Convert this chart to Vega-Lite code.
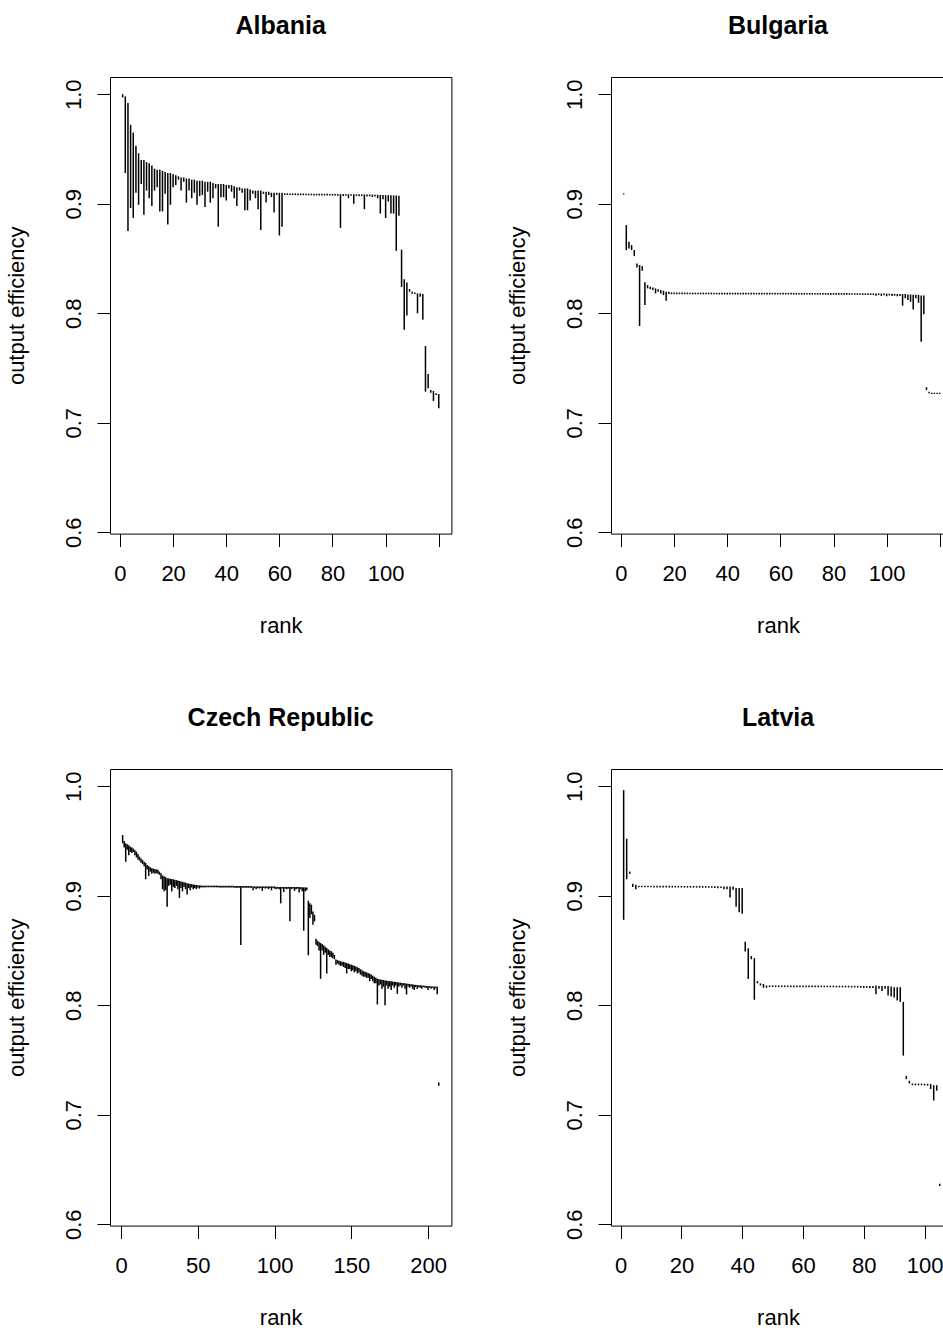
{
"$schema": "https://vega.github.io/schema/vega-lite/v6.json",
"background": "white",
"padding": {"left": 4, "top": 13, "right": 0, "bottom": 0},
"config": {
  "view": {"stroke": "black", "strokeWidth": 1},
  "font": "Liberation Sans",
  "title": {"font": "Liberation Sans", "fontSize": 25, "fontWeight": "bold", "color": "black", "anchor": "middle", "frame": "group", "baseline": "alphabetic", "offset": 38.1},
  "axis": {"domain": false, "grid": false, "ticks": true, "tickColor": "black", "tickSize": 13, "tickWidth": 1, "labelFont": "Liberation Sans", "labelFontSize": 22, "labelColor": "black", "labelFlush": false, "labelOverlap": false, "titleFont": "Liberation Sans", "titleFontSize": 22, "titleFontWeight": "normal", "titleColor": "black"},
  "axisX": {"labelAngle": 0, "labelAlign": "center", "labelBaseline": "alphabetic", "labelPadding": 33.5, "titleBaseline": "alphabetic", "titleAlign": "center", "titleY": 98.7},
  "axisY": {"labelAngle": 270, "labelAlign": "center", "labelBaseline": "alphabetic", "labelPadding": 17, "titleAngle": 270, "titleAlign": "center", "titleBaseline": "alphabetic", "titleX": -87, "titleY": 228.3}
},
"datasets": {
"alb": [
{"r":1,"l":0.997,"h":1.0},{"r":2,"l":0.928,"h":0.998},{"r":3,"l":0.875,"h":0.992},{"r":4,"l":0.896,"h":0.972},{"r":5,"l":0.887,"h":0.965},
{"r":6,"l":0.910,"h":0.953},{"r":7,"l":0.899,"h":0.946},{"r":8,"l":0.918,"h":0.940},{"r":9,"l":0.890,"h":0.940},{"r":10,"l":0.912,"h":0.938},
{"r":11,"l":0.905,"h":0.937},{"r":12,"l":0.898,"h":0.935},{"r":13,"l":0.912,"h":0.932},{"r":14,"l":0.915,"h":0.931},{"r":15,"l":0.893,"h":0.931},
{"r":16,"l":0.893,"h":0.930},{"r":17,"l":0.909,"h":0.929},{"r":18,"l":0.881,"h":0.928},{"r":19,"l":0.899,"h":0.928},{"r":20,"l":0.915,"h":0.927},
{"r":21,"l":0.917,"h":0.926},{"r":22,"l":0.922,"h":0.925},{"r":23,"l":0.912,"h":0.924},{"r":24,"l":0.920,"h":0.924},{"r":25,"l":0.901,"h":0.923},
{"r":26,"l":0.912,"h":0.923},{"r":27,"l":0.905,"h":0.922},{"r":28,"l":0.910,"h":0.922},{"r":29,"l":0.899,"h":0.921},{"r":30,"l":0.907,"h":0.921},
{"r":31,"l":0.908,"h":0.921},{"r":32,"l":0.897,"h":0.920},{"r":33,"l":0.911,"h":0.920},{"r":34,"l":0.901,"h":0.920},{"r":35,"l":0.905,"h":0.919},
{"r":36,"l":0.914,"h":0.918},{"r":37,"l":0.879,"h":0.918},{"r":38,"l":0.906,"h":0.918},{"r":39,"l":0.906,"h":0.918},{"r":40,"l":0.903,"h":0.917},
{"r":41,"l":0.914,"h":0.917},{"r":42,"l":0.911,"h":0.917},{"r":43,"l":0.905,"h":0.916},{"r":44,"l":0.898,"h":0.915},{"r":45,"l":0.912,"h":0.915},
{"r":46,"l":0.910,"h":0.914},{"r":47,"l":0.894,"h":0.914},{"r":48,"l":0.894,"h":0.914},{"r":49,"l":0.903,"h":0.913},{"r":50,"l":0.909,"h":0.912},
{"r":51,"l":0.905,"h":0.912},{"r":52,"l":0.895,"h":0.912},{"r":53,"l":0.876,"h":0.912},{"r":54,"l":0.909,"h":0.911},{"r":55,"l":0.901,"h":0.911},
{"r":56,"l":0.908,"h":0.911},{"r":57,"l":0.906,"h":0.910},{"r":58,"l":0.892,"h":0.910},{"r":59,"l":0.908,"h":0.910},{"r":60,"l":0.871,"h":0.910},
{"r":61,"l":0.879,"h":0.910},{"r":62,"l":0.9080,"h":0.9095},{"r":63,"l":0.9080,"h":0.9095},{"r":64,"l":0.9079,"h":0.9094},{"r":65,"l":0.9079,"h":0.9094},
{"r":66,"l":0.9079,"h":0.9094},{"r":67,"l":0.9078,"h":0.9093},{"r":68,"l":0.9078,"h":0.9093},{"r":69,"l":0.9078,"h":0.9093},{"r":70,"l":0.9077,"h":0.9092},
{"r":71,"l":0.9077,"h":0.9092},{"r":72,"l":0.9077,"h":0.9092},{"r":73,"l":0.9076,"h":0.9091},{"r":74,"l":0.9076,"h":0.9091},{"r":75,"l":0.9076,"h":0.9091},
{"r":76,"l":0.9075,"h":0.9090},{"r":77,"l":0.9075,"h":0.9090},{"r":78,"l":0.9075,"h":0.9090},{"r":79,"l":0.9074,"h":0.9089},{"r":80,"l":0.9074,"h":0.9089},
{"r":81,"l":0.9074,"h":0.9089},{"r":82,"l":0.9073,"h":0.9088},{"r":83,"l":0.878,"h":0.9088},{"r":84,"l":0.9070,"h":0.9088},{"r":85,"l":0.9072,"h":0.9087},
{"r":86,"l":0.905,"h":0.9087},{"r":87,"l":0.9072,"h":0.9087},{"r":88,"l":0.900,"h":0.9086},{"r":89,"l":0.9071,"h":0.9086},{"r":90,"l":0.9068,"h":0.9086},
{"r":91,"l":0.9070,"h":0.9085},{"r":92,"l":0.895,"h":0.9085},{"r":93,"l":0.9065,"h":0.9085},{"r":94,"l":0.9069,"h":0.9084},{"r":95,"l":0.9062,"h":0.9084},
{"r":96,"l":0.9066,"h":0.9083},{"r":97,"l":0.905,"h":0.9082},{"r":98,"l":0.891,"h":0.9080},{"r":99,"l":0.904,"h":0.9079},{"r":100,"l":0.887,"h":0.9078},
{"r":101,"l":0.902,"h":0.9078},{"r":102,"l":0.891,"h":0.9077},{"r":103,"l":0.891,"h":0.9076},{"r":104,"l":0.857,"h":0.9075},{"r":105,"l":0.889,"h":0.9073},
{"r":106,"l":0.824,"h":0.858},{"r":107,"l":0.785,"h":0.831},{"r":108,"l":0.798,"h":0.828},{"r":109,"l":0.8197,"h":0.8221},{"r":110,"l":0.8179,"h":0.8197},
{"r":111,"l":0.8175,"h":0.8190},{"r":112,"l":0.800,"h":0.8181},{"r":113,"l":0.815,"h":0.8181},{"r":114,"l":0.794,"h":0.8175},{"r":115,"l":0.7284,"h":0.7701},
{"r":116,"l":0.7314,"h":0.7445},{"r":117,"l":0.7275,"h":0.7299},{"r":118,"l":0.7199,"h":0.7290},{"r":119,"l":0.7254,"h":0.7269},{"r":120,"l":0.7132,"h":0.7263}
],
"bul": [
{"r":1,"l":0.9085,"h":0.9095},{"r":2,"l":0.8577,"h":0.8805},{"r":3,"l":0.8592,"h":0.8653},{"r":4,"l":0.8577,"h":0.8622},{"r":5,"l":0.8522,"h":0.8577},
{"r":6,"l":0.8418,"h":0.8455},{"r":7,"l":0.7883,"h":0.8440},{"r":8,"l":0.8388,"h":0.8431},{"r":9,"l":0.8075,"h":0.8282},{"r":10,"l":0.8227,"h":0.8257},
{"r":11,"l":0.8218,"h":0.8242},{"r":12,"l":0.8212,"h":0.8236},{"r":13,"l":0.8181,"h":0.8227},{"r":14,"l":0.8197,"h":0.8218},{"r":15,"l":0.8181,"h":0.8212},
{"r":16,"l":0.8166,"h":0.8206},{"r":17,"l":0.8114,"h":0.8197},{"r":18,"l":0.8175,"h":0.8197},{"r":19,"l":0.8174,"h":0.8190},{"r":20,"l":0.8174,"h":0.8189},
{"r":21,"l":0.8174,"h":0.8189},{"r":22,"l":0.8174,"h":0.8189},{"r":23,"l":0.8174,"h":0.8189},{"r":24,"l":0.8174,"h":0.8189},{"r":25,"l":0.8173,"h":0.8188},
{"r":26,"l":0.8173,"h":0.8188},{"r":27,"l":0.8173,"h":0.8188},{"r":28,"l":0.8173,"h":0.8188},{"r":29,"l":0.8173,"h":0.8188},{"r":30,"l":0.8173,"h":0.8188},
{"r":31,"l":0.8173,"h":0.8188},{"r":32,"l":0.8173,"h":0.8188},{"r":33,"l":0.8173,"h":0.8188},{"r":34,"l":0.8173,"h":0.8188},{"r":35,"l":0.8173,"h":0.8188},
{"r":36,"l":0.8172,"h":0.8187},{"r":37,"l":0.8172,"h":0.8187},{"r":38,"l":0.8172,"h":0.8187},{"r":39,"l":0.8172,"h":0.8187},{"r":40,"l":0.8172,"h":0.8187},
{"r":41,"l":0.8172,"h":0.8187},{"r":42,"l":0.8172,"h":0.8187},{"r":43,"l":0.8172,"h":0.8187},{"r":44,"l":0.8172,"h":0.8187},{"r":45,"l":0.8172,"h":0.8187},
{"r":46,"l":0.8172,"h":0.8187},{"r":47,"l":0.8172,"h":0.8187},{"r":48,"l":0.8172,"h":0.8187},{"r":49,"l":0.8172,"h":0.8187},{"r":50,"l":0.8172,"h":0.8187},
{"r":51,"l":0.8171,"h":0.8186},{"r":52,"l":0.8171,"h":0.8186},{"r":53,"l":0.8171,"h":0.8186},{"r":54,"l":0.8171,"h":0.8186},{"r":55,"l":0.8171,"h":0.8186},
{"r":56,"l":0.8171,"h":0.8186},{"r":57,"l":0.8171,"h":0.8186},{"r":58,"l":0.8171,"h":0.8186},{"r":59,"l":0.8171,"h":0.8186},{"r":60,"l":0.8171,"h":0.8186},
{"r":61,"l":0.8171,"h":0.8186},{"r":62,"l":0.8171,"h":0.8186},{"r":63,"l":0.8171,"h":0.8186},{"r":64,"l":0.8171,"h":0.8186},{"r":65,"l":0.8171,"h":0.8186},
{"r":66,"l":0.8170,"h":0.8185},{"r":67,"l":0.8170,"h":0.8185},{"r":68,"l":0.8170,"h":0.8185},{"r":69,"l":0.8170,"h":0.8185},{"r":70,"l":0.8170,"h":0.8185},
{"r":71,"l":0.8170,"h":0.8185},{"r":72,"l":0.8170,"h":0.8185},{"r":73,"l":0.8170,"h":0.8185},{"r":74,"l":0.8170,"h":0.8185},{"r":75,"l":0.8170,"h":0.8185},
{"r":76,"l":0.8169,"h":0.8184},{"r":77,"l":0.8169,"h":0.8184},{"r":78,"l":0.8169,"h":0.8184},{"r":79,"l":0.8169,"h":0.8184},{"r":80,"l":0.8169,"h":0.8184},
{"r":81,"l":0.8169,"h":0.8184},{"r":82,"l":0.8169,"h":0.8184},{"r":83,"l":0.8169,"h":0.8184},{"r":84,"l":0.8169,"h":0.8184},{"r":85,"l":0.8169,"h":0.8184},
{"r":86,"l":0.8168,"h":0.8183},{"r":87,"l":0.8168,"h":0.8183},{"r":88,"l":0.8168,"h":0.8183},{"r":89,"l":0.8168,"h":0.8183},{"r":90,"l":0.8168,"h":0.8183},
{"r":91,"l":0.8167,"h":0.8182},{"r":92,"l":0.8167,"h":0.8182},{"r":93,"l":0.8167,"h":0.8182},{"r":94,"l":0.8167,"h":0.8182},{"r":95,"l":0.8166,"h":0.8181},
{"r":96,"l":0.8160,"h":0.8181},{"r":97,"l":0.8166,"h":0.8181},{"r":98,"l":0.8158,"h":0.8180},{"r":99,"l":0.8165,"h":0.8180},{"r":100,"l":0.8155,"h":0.8179},
{"r":101,"l":0.8163,"h":0.8178},{"r":102,"l":0.8158,"h":0.8178},{"r":103,"l":0.8160,"h":0.8177},{"r":104,"l":0.8155,"h":0.8176},{"r":105,"l":0.8158,"h":0.8176},
{"r":106,"l":0.8069,"h":0.8175},{"r":107,"l":0.8136,"h":0.8175},{"r":108,"l":0.8120,"h":0.8172},{"r":109,"l":0.8105,"h":0.8172},{"r":110,"l":0.8035,"h":0.8169},
{"r":111,"l":0.8136,"h":0.8169},{"r":112,"l":0.8096,"h":0.8169},{"r":113,"l":0.7740,"h":0.8163},{"r":114,"l":0.7990,"h":0.8163},{"r":115,"l":0.7299,"h":0.7324},
{"r":116,"l":0.7269,"h":0.7284},{"r":117,"l":0.7263,"h":0.7275},{"r":118,"l":0.7263,"h":0.7275},{"r":119,"l":0.7263,"h":0.7275},{"r":120,"l":0.7263,"h":0.7275}
],
"cze": [
{"r":1,"l":0.9480,"h":0.9554},{"r":2,"l":0.9440,"h":0.9500},{"r":3,"l":0.9310,"h":0.9478},{"r":4,"l":0.9420,"h":0.9470},{"r":5,"l":0.9370,"h":0.9460},
{"r":6,"l":0.9400,"h":0.9448},{"r":7,"l":0.9390,"h":0.9440},{"r":8,"l":0.9400,"h":0.9430},{"r":9,"l":0.9370,"h":0.9415},{"r":10,"l":0.9350,"h":0.9402},
{"r":11,"l":0.9330,"h":0.9380},{"r":12,"l":0.9320,"h":0.9357},{"r":13,"l":0.9300,"h":0.9340},{"r":14,"l":0.9290,"h":0.9325},{"r":15,"l":0.9270,"h":0.9311},
{"r":16,"l":0.9150,"h":0.9300},{"r":17,"l":0.9240,"h":0.9281},{"r":18,"l":0.9180,"h":0.9270},{"r":19,"l":0.9220,"h":0.9260},{"r":20,"l":0.9200,"h":0.9251},
{"r":21,"l":0.9210,"h":0.9248},{"r":22,"l":0.9200,"h":0.9245},{"r":23,"l":0.9205,"h":0.9240},{"r":24,"l":0.9200,"h":0.9236},{"r":25,"l":0.9190,"h":0.9220},
{"r":26,"l":0.9150,"h":0.9205},{"r":27,"l":0.9060,"h":0.9184},{"r":28,"l":0.9040,"h":0.9178},{"r":29,"l":0.9050,"h":0.9170},{"r":30,"l":0.8900,"h":0.9160},
{"r":31,"l":0.9090,"h":0.9158},{"r":32,"l":0.9100,"h":0.9155},{"r":33,"l":0.9040,"h":0.9152},{"r":34,"l":0.9080,"h":0.9150},{"r":35,"l":0.9070,"h":0.9145},
{"r":36,"l":0.9090,"h":0.9142},{"r":37,"l":0.9060,"h":0.9138},{"r":38,"l":0.8980,"h":0.9134},{"r":39,"l":0.9070,"h":0.9130},{"r":40,"l":0.9040,"h":0.9127},
{"r":41,"l":0.9080,"h":0.9124},{"r":42,"l":0.9060,"h":0.9120},{"r":43,"l":0.9010,"h":0.9114},{"r":44,"l":0.9070,"h":0.9111},{"r":45,"l":0.9050,"h":0.9108},
{"r":46,"l":0.9075,"h":0.9105},{"r":47,"l":0.9060,"h":0.9102},{"r":48,"l":0.9070,"h":0.9099},{"r":49,"l":0.9060,"h":0.9098},{"r":50,"l":0.9075,"h":0.9096},
{"r":51,"l":0.9065,"h":0.9094},{"r":52,"l":0.9075,"h":0.9093},{"r":53,"l":0.9077,"h":0.9092},{"r":54,"l":0.9075,"h":0.9092},{"r":55,"l":0.9077,"h":0.9092},
{"r":56,"l":0.9077,"h":0.9092},{"r":57,"l":0.9077,"h":0.9092},{"r":58,"l":0.9077,"h":0.9092},{"r":59,"l":0.9077,"h":0.9092},{"r":60,"l":0.9077,"h":0.9092},
{"r":61,"l":0.9077,"h":0.9092},{"r":62,"l":0.9077,"h":0.9092},{"r":63,"l":0.9077,"h":0.9092},{"r":64,"l":0.9075,"h":0.9090},{"r":65,"l":0.9075,"h":0.9090},
{"r":66,"l":0.9075,"h":0.9090},{"r":67,"l":0.9075,"h":0.9090},{"r":68,"l":0.9075,"h":0.9090},{"r":69,"l":0.9075,"h":0.9090},{"r":70,"l":0.9075,"h":0.9090},
{"r":71,"l":0.9075,"h":0.9090},{"r":72,"l":0.9075,"h":0.9090},{"r":73,"l":0.9075,"h":0.9090},{"r":74,"l":0.9073,"h":0.9088},{"r":75,"l":0.9073,"h":0.9088},
{"r":76,"l":0.9073,"h":0.9088},{"r":77,"l":0.9073,"h":0.9088},{"r":78,"l":0.8550,"h":0.9088},{"r":79,"l":0.9073,"h":0.9088},{"r":80,"l":0.9073,"h":0.9088},
{"r":81,"l":0.9073,"h":0.9088},{"r":82,"l":0.9073,"h":0.9088},{"r":83,"l":0.9073,"h":0.9088},{"r":84,"l":0.9073,"h":0.9088},{"r":85,"l":0.9073,"h":0.9088},
{"r":86,"l":0.9050,"h":0.9085},{"r":87,"l":0.9070,"h":0.9085},{"r":88,"l":0.9060,"h":0.9085},{"r":89,"l":0.9070,"h":0.9085},{"r":90,"l":0.9065,"h":0.9085},
{"r":91,"l":0.9070,"h":0.9085},{"r":92,"l":0.9045,"h":0.9085},{"r":93,"l":0.9070,"h":0.9085},{"r":94,"l":0.9065,"h":0.9085},{"r":95,"l":0.9070,"h":0.9085},
{"r":96,"l":0.9060,"h":0.9085},{"r":97,"l":0.9070,"h":0.9085},{"r":98,"l":0.9050,"h":0.9085},{"r":99,"l":0.9070,"h":0.9085},{"r":100,"l":0.9065,"h":0.9085},
{"r":101,"l":0.9060,"h":0.9080},{"r":102,"l":0.9065,"h":0.9080},{"r":103,"l":0.9060,"h":0.9080},{"r":104,"l":0.8930,"h":0.9080},{"r":105,"l":0.9065,"h":0.9080},
{"r":106,"l":0.9035,"h":0.9080},{"r":107,"l":0.9065,"h":0.9080},{"r":108,"l":0.9060,"h":0.9080},{"r":109,"l":0.9065,"h":0.9080},{"r":110,"l":0.8766,"h":0.9080},
{"r":111,"l":0.9060,"h":0.9080},{"r":112,"l":0.9065,"h":0.9080},{"r":113,"l":0.9045,"h":0.9080},{"r":114,"l":0.9060,"h":0.9080},{"r":115,"l":0.9065,"h":0.9080},
{"r":116,"l":0.9030,"h":0.9080},{"r":117,"l":0.9060,"h":0.9078},{"r":118,"l":0.9040,"h":0.9077},{"r":119,"l":0.8680,"h":0.9076},{"r":120,"l":0.9040,"h":0.9076},
{"r":121,"l":0.9050,"h":0.9075},{"r":122,"l":0.8456,"h":0.8954},{"r":123,"l":0.8796,"h":0.8932},{"r":124,"l":0.8830,"h":0.8918},{"r":125,"l":0.8735,"h":0.8857},
{"r":126,"l":0.8765,"h":0.8826},{"r":127,"l":0.8553,"h":0.8608},{"r":128,"l":0.8540,"h":0.8590},{"r":129,"l":0.8500,"h":0.8577},{"r":130,"l":0.8241,"h":0.8568},
{"r":131,"l":0.8500,"h":0.8560},{"r":132,"l":0.8460,"h":0.8547},{"r":133,"l":0.8480,"h":0.8535},{"r":134,"l":0.8289,"h":0.8523},{"r":135,"l":0.8460,"h":0.8510},
{"r":136,"l":0.8440,"h":0.8500},{"r":137,"l":0.8440,"h":0.8493},{"r":138,"l":0.8430,"h":0.8480},{"r":139,"l":0.8420,"h":0.8460},{"r":140,"l":0.8370,"h":0.8417},
{"r":141,"l":0.8380,"h":0.8412},{"r":142,"l":0.8370,"h":0.8407},{"r":143,"l":0.8360,"h":0.8402},{"r":144,"l":0.8360,"h":0.8398},{"r":145,"l":0.8350,"h":0.8395},
{"r":146,"l":0.8340,"h":0.8390},{"r":147,"l":0.8290,"h":0.8385},{"r":148,"l":0.8330,"h":0.8380},{"r":149,"l":0.8330,"h":0.8375},{"r":150,"l":0.8310,"h":0.8370},
{"r":151,"l":0.8320,"h":0.8365},{"r":152,"l":0.8300,"h":0.8360},{"r":153,"l":0.8310,"h":0.8353},{"r":154,"l":0.8290,"h":0.8347},{"r":155,"l":0.8300,"h":0.8340},
{"r":156,"l":0.8280,"h":0.8330},{"r":157,"l":0.8270,"h":0.8320},{"r":158,"l":0.8260,"h":0.8311},{"r":159,"l":0.8260,"h":0.8305},{"r":160,"l":0.8250,"h":0.8300},
{"r":161,"l":0.8250,"h":0.8295},{"r":162,"l":0.8220,"h":0.8288},{"r":163,"l":0.8240,"h":0.8280},{"r":164,"l":0.8220,"h":0.8270},{"r":165,"l":0.8200,"h":0.8260},
{"r":166,"l":0.8200,"h":0.8250},{"r":167,"l":0.8007,"h":0.8241},{"r":168,"l":0.8180,"h":0.8238},{"r":169,"l":0.8190,"h":0.8235},{"r":170,"l":0.8150,"h":0.8233},
{"r":171,"l":0.8170,"h":0.8230},{"r":172,"l":0.8001,"h":0.8226},{"r":173,"l":0.8180,"h":0.8224},{"r":174,"l":0.8150,"h":0.8222},{"r":175,"l":0.8170,"h":0.8220},
{"r":176,"l":0.8140,"h":0.8218},{"r":177,"l":0.8180,"h":0.8216},{"r":178,"l":0.8160,"h":0.8214},{"r":179,"l":0.8180,"h":0.8212},{"r":180,"l":0.8104,"h":0.8210},
{"r":181,"l":0.8170,"h":0.8208},{"r":182,"l":0.8180,"h":0.8206},{"r":183,"l":0.8160,"h":0.8204},{"r":184,"l":0.8180,"h":0.8202},{"r":185,"l":0.8150,"h":0.8200},
{"r":186,"l":0.8098,"h":0.8198},{"r":187,"l":0.8170,"h":0.8196},{"r":188,"l":0.8160,"h":0.8194},{"r":189,"l":0.8170,"h":0.8192},{"r":190,"l":0.8150,"h":0.8190},
{"r":191,"l":0.8140,"h":0.8188},{"r":192,"l":0.8165,"h":0.8186},{"r":193,"l":0.8150,"h":0.8184},{"r":194,"l":0.8165,"h":0.8183},{"r":195,"l":0.8160,"h":0.8182},
{"r":196,"l":0.8150,"h":0.8180},{"r":197,"l":0.8165,"h":0.8179},{"r":198,"l":0.8160,"h":0.8178},{"r":199,"l":0.8160,"h":0.8176},{"r":200,"l":0.8140,"h":0.8175},
{"r":201,"l":0.8160,"h":0.8174},{"r":202,"l":0.8150,"h":0.8173},{"r":203,"l":0.8160,"h":0.8172},{"r":204,"l":0.8140,"h":0.8171},{"r":205,"l":0.8155,"h":0.8170},
{"r":206,"l":0.8100,"h":0.8168},{"r":207,"l":0.7264,"h":0.7295}
],
"lat": [
{"r":1,"l":0.878,"h":0.9964},{"r":2,"l":0.915,"h":0.952},{"r":3,"l":0.920,"h":0.922},{"r":4,"l":0.908,"h":0.911},{"r":5,"l":0.906,"h":0.910},
{"r":6,"l":0.9077,"h":0.9092},{"r":7,"l":0.9077,"h":0.9092},{"r":8,"l":0.9077,"h":0.9092},{"r":9,"l":0.9077,"h":0.9092},{"r":10,"l":0.9077,"h":0.9092},
{"r":11,"l":0.9076,"h":0.9091},{"r":12,"l":0.9076,"h":0.9091},{"r":13,"l":0.9076,"h":0.9091},{"r":14,"l":0.9076,"h":0.9091},{"r":15,"l":0.9076,"h":0.9091},
{"r":16,"l":0.9075,"h":0.9090},{"r":17,"l":0.9075,"h":0.9090},{"r":18,"l":0.9075,"h":0.9090},{"r":19,"l":0.9075,"h":0.9090},{"r":20,"l":0.9075,"h":0.9090},
{"r":21,"l":0.9074,"h":0.9089},{"r":22,"l":0.9074,"h":0.9089},{"r":23,"l":0.9074,"h":0.9089},{"r":24,"l":0.9074,"h":0.9089},{"r":25,"l":0.9074,"h":0.9089},
{"r":26,"l":0.9073,"h":0.9088},{"r":27,"l":0.9073,"h":0.9088},{"r":28,"l":0.9073,"h":0.9088},{"r":29,"l":0.9072,"h":0.9087},{"r":30,"l":0.9072,"h":0.9087},
{"r":31,"l":0.9070,"h":0.9086},{"r":32,"l":0.9068,"h":0.9086},{"r":33,"l":0.9070,"h":0.9085},{"r":34,"l":0.9060,"h":0.9085},{"r":35,"l":0.9060,"h":0.9084},
{"r":36,"l":0.8984,"h":0.9084},{"r":37,"l":0.9054,"h":0.9084},{"r":38,"l":0.8900,"h":0.9070},{"r":39,"l":0.8850,"h":0.9070},{"r":40,"l":0.8835,"h":0.9070},
{"r":41,"l":0.8490,"h":0.8580},{"r":42,"l":0.8240,"h":0.8520},{"r":43,"l":0.8420,"h":0.8450},{"r":44,"l":0.8050,"h":0.8430},{"r":45,"l":0.8200,"h":0.8220},
{"r":46,"l":0.8180,"h":0.8200},{"r":47,"l":0.8160,"h":0.8195},{"r":48,"l":0.8160,"h":0.8180},{"r":49,"l":0.8166,"h":0.8181},{"r":50,"l":0.8166,"h":0.8181},
{"r":51,"l":0.8166,"h":0.8181},{"r":52,"l":0.8166,"h":0.8181},{"r":53,"l":0.8166,"h":0.8181},{"r":54,"l":0.8166,"h":0.8181},{"r":55,"l":0.8166,"h":0.8181},
{"r":56,"l":0.8165,"h":0.8180},{"r":57,"l":0.8165,"h":0.8180},{"r":58,"l":0.8165,"h":0.8180},{"r":59,"l":0.8165,"h":0.8180},{"r":60,"l":0.8165,"h":0.8180},
{"r":61,"l":0.8165,"h":0.8180},{"r":62,"l":0.8165,"h":0.8180},{"r":63,"l":0.8165,"h":0.8180},{"r":64,"l":0.8165,"h":0.8180},{"r":65,"l":0.8165,"h":0.8180},
{"r":66,"l":0.8164,"h":0.8179},{"r":67,"l":0.8164,"h":0.8179},{"r":68,"l":0.8164,"h":0.8179},{"r":69,"l":0.8164,"h":0.8179},{"r":70,"l":0.8164,"h":0.8179},
{"r":71,"l":0.8163,"h":0.8178},{"r":72,"l":0.8163,"h":0.8178},{"r":73,"l":0.8163,"h":0.8178},{"r":74,"l":0.8163,"h":0.8178},{"r":75,"l":0.8163,"h":0.8178},
{"r":76,"l":0.8162,"h":0.8177},{"r":77,"l":0.8162,"h":0.8177},{"r":78,"l":0.8162,"h":0.8177},{"r":79,"l":0.8160,"h":0.8177},{"r":80,"l":0.8158,"h":0.8176},
{"r":81,"l":0.8160,"h":0.8176},{"r":82,"l":0.8155,"h":0.8176},{"r":83,"l":0.8158,"h":0.8175},{"r":84,"l":0.8100,"h":0.8180},{"r":85,"l":0.8150,"h":0.8175},
{"r":86,"l":0.8130,"h":0.8175},{"r":87,"l":0.8150,"h":0.8175},{"r":88,"l":0.8090,"h":0.8175},{"r":89,"l":0.8080,"h":0.8170},{"r":90,"l":0.8070,"h":0.8165},
{"r":91,"l":0.8044,"h":0.8165},{"r":92,"l":0.8030,"h":0.8165},{"r":93,"l":0.7540,"h":0.8030},{"r":94,"l":0.7325,"h":0.7355},{"r":95,"l":0.7285,"h":0.7310},
{"r":96,"l":0.7270,"h":0.7285},{"r":97,"l":0.7270,"h":0.7285},{"r":98,"l":0.7270,"h":0.7285},{"r":99,"l":0.7270,"h":0.7285},{"r":100,"l":0.7268,"h":0.7283},
{"r":101,"l":0.7266,"h":0.7282},{"r":102,"l":0.7235,"h":0.7280},{"r":103,"l":0.7130,"h":0.7270},{"r":104,"l":0.7220,"h":0.7270},{"r":105,"l":0.6350,"h":0.6370}
]
},
"vconcat": [
 {"hconcat": [
  {"title": {"text": "Albania"}, "data": {"name": "alb"}, "width": 341.4, "height": 456.6,
   "mark": {"type": "rule", "color": "black", "strokeWidth": 1.5},
   "encoding": {
    "x": {"field": "r", "type": "quantitative", "scale": {"domain": [-3.76, 124.76], "nice": false, "zero": false}, "axis": {"values": [0,20,40,60,80,100,120], "labelExpr": "datum.value == 120 ? '' : datum.label", "title": "rank"}},
    "y": {"field": "l", "type": "quantitative", "scale": {"domain": [0.5988, 1.0157], "nice": false, "zero": false}, "axis": {"values": [0.6,0.7,0.8,0.9,1.0], "format": ".1f", "title": "output efficiency"}},
    "y2": {"field": "h"}}},
  {"title": {"text": "Bulgaria"}, "data": {"name": "bul"}, "width": 334, "height": 456.6,
   "mark": {"type": "rule", "color": "black", "strokeWidth": 1.5},
   "encoding": {
    "x": {"field": "r", "type": "quantitative", "scale": {"domain": [-3.76, 121.97], "nice": false, "zero": false}, "axis": {"values": [0,20,40,60,80,100,120], "labelExpr": "datum.value == 120 ? '' : datum.label", "title": "rank"}},
    "y": {"field": "l", "type": "quantitative", "scale": {"domain": [0.5988, 1.0157], "nice": false, "zero": false}, "axis": {"values": [0.6,0.7,0.8,0.9,1.0], "format": ".1f", "title": "output efficiency"}},
    "y2": {"field": "h"}}}
 ], "spacing": 53},
 {"hconcat": [
  {"title": {"text": "Czech Republic"}, "data": {"name": "cze"}, "width": 341.4, "height": 456.6,
   "mark": {"type": "rule", "color": "black", "strokeWidth": 1.5},
   "encoding": {
    "x": {"field": "r", "type": "quantitative", "scale": {"domain": [-7.24, 215.24], "nice": false, "zero": false}, "axis": {"values": [0,50,100,150,200], "title": "rank"}},
    "y": {"field": "l", "type": "quantitative", "scale": {"domain": [0.5988, 1.0157], "nice": false, "zero": false}, "axis": {"values": [0.6,0.7,0.8,0.9,1.0], "format": ".1f", "title": "output efficiency"}},
    "y2": {"field": "h"}}},
  {"title": {"text": "Latvia"}, "data": {"name": "lat"}, "width": 334, "height": 456.6,
   "mark": {"type": "rule", "color": "black", "strokeWidth": 1.5},
   "encoding": {
    "x": {"field": "r", "type": "quantitative", "scale": {"domain": [-3.16, 106.72], "nice": false, "zero": false}, "axis": {"values": [0,20,40,60,80,100], "title": "rank"}},
    "y": {"field": "l", "type": "quantitative", "scale": {"domain": [0.5988, 1.0157], "nice": false, "zero": false}, "axis": {"values": [0.6,0.7,0.8,0.9,1.0], "format": ".1f", "title": "output efficiency"}},
    "y2": {"field": "h"}}}
 ], "spacing": 53}
],
"spacing": 68
}
